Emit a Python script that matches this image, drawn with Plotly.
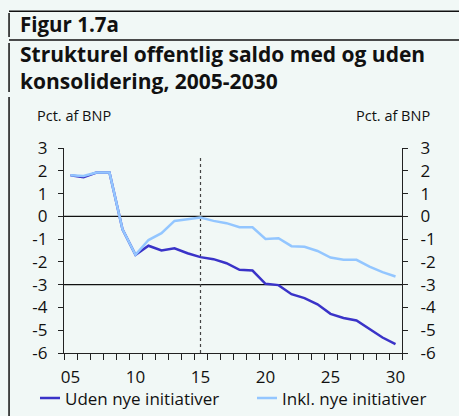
import plotly.graph_objects as go

years = list(range(2005, 2031))
uden = [1.80, 1.72, 1.92, 1.92, -0.57, -1.69, -1.29, -1.50, -1.40, -1.62, -1.79,
        -1.88, -2.06, -2.35, -2.38, -2.96, -3.02, -3.42, -3.59, -3.86, -4.28,
        -4.46, -4.57, -4.94, -5.32, -5.61]
inkl = [1.80, 1.77, 1.92, 1.92, -0.57, -1.69, -1.04, -0.74, -0.20, -0.12, -0.05,
        -0.20, -0.30, -0.48, -0.48, -0.99, -0.96, -1.31, -1.34, -1.52, -1.81,
        -1.91, -1.91, -2.21, -2.45, -2.64]
series_names = ["Uden nye initiativer", "Inkl. nye initiativer"]
y_ticks = [-6, -5, -4, -3, -2, -1, 0, 1, 2, 3]
y_tick_text = ["-6", "-5", "-4", "-3", "-2", "-1", "0", "1", "2", "3"]
x_tick_vals = [2005, 2010, 2015, 2020, 2025, 2030]
x_tick_text = ["05", "10", "15", "20", "25", "30"]
ref_lines = [0, -3]
marker_year = 2015

W, H = 459, 416
L, R, T, B = 64, 402, 148, 353
BG = "#F1F8F6"
FONT = "Open Sans"
DARK = "#3A33C8"
LIGHT = "#93C6FF"
colors = [DARK, LIGHT]


def px(x):
    return (x - L) / (R - L)


def py(y):
    return (B - y) / (B - T)


fig = go.Figure()
fig.add_trace(go.Scatter(x=years, y=uden, name=series_names[0], mode="lines",
                         line=dict(color=DARK, width=2.5), yaxis="y", showlegend=False))
fig.add_trace(go.Scatter(x=years, y=inkl, name=series_names[1], mode="lines",
                         line=dict(color=LIGHT, width=2.5), yaxis="y2", showlegend=False))

axis_common = dict(range=[-6, 3], tickvals=y_ticks, ticktext=y_tick_text,
                   ticks="outside", ticklen=5, automargin=False,
                   tickwidth=1.2, tickcolor="#222", showline=True, linecolor="#222",
                   linewidth=1.3, showgrid=False, zeroline=False,
                   tickfont=dict(family=FONT, size=17, color="#111"))

fig.update_layout(
    width=W, height=H,
    margin=dict(l=L, r=W - R, t=T, b=H - B, pad=0, autoexpand=False),
    paper_bgcolor=BG, plot_bgcolor=BG,
    xaxis=dict(range=[2004.5, 2030.5], tickvals=x_tick_vals, ticktext=x_tick_text,
               ticks="", showline=True, linecolor="#222", linewidth=1.3,
               showgrid=False, zeroline=False, ticklabelstandoff=8, automargin=False,
               tickfont=dict(family=FONT, size=17, color="#111"),
               minor=dict(tickvals=[y + 0.5 for y in range(2004, 2031)],
                          ticks="outside", ticklen=6, tickwidth=1.2, tickcolor="#222",
                          showgrid=False)),
    yaxis=dict(side="left", ticklabelstandoff=7, **axis_common),
    yaxis2=dict(side="right", overlaying="y", ticklabelstandoff=9, **axis_common),
    showlegend=False,
)

for v in ref_lines:
    fig.add_shape(type="line", xref="paper", yref="y", x0=0, x1=1, y0=v, y1=v,
                  line=dict(color="#111", width=1.2), layer="below")
fig.add_shape(type="line", xref="x", yref="y", x0=marker_year, x1=marker_year,
              y0=-6, y1=2.6, line=dict(color="#444", width=1.2, dash="dot"), layer="below")

# frame lines (drawn as thin filled rectangles)
frame = [
    (9, 10.5, W, 12), (9, 39.3, W, 40.8),
    (8.3, 13, 9.8, 37), (8.3, 43, 9.8, 92), (8.3, 97, 9.8, H),
]
for x0, y0, x1, y1 in frame:
    fig.add_shape(type="rect", xref="paper", yref="paper", x0=px(x0), x1=px(x1),
                  y0=py(y0), y1=py(y1), line=dict(width=0), fillcolor="#111",
                  layer="above")

# legend (manual)
legend_pos = [(40, 398), (257, 398)]
for (lx, ly), name, col in zip(legend_pos, series_names, colors):
    fig.add_shape(type="line", xref="paper", yref="paper", x0=px(lx), x1=px(lx + 20),
                  y0=py(ly), y1=py(ly), line=dict(color=col, width=2.5))
    fig.add_annotation(text=name, xref="paper", yref="paper", x=px(lx + 23), y=py(ly),
                       xanchor="left", yanchor="middle", showarrow=False,
                       font=dict(family=FONT, size=17, color="#111"))

ann = [
    ("Figur 1.7a", 18, 24, 20.5),
    ("Strukturel offentlig saldo med og uden", 18, 54, 21),
    ("konsolidering, 2005-2030", 18, 81, 21),
]
for text, x, y, size in ann:
    fig.add_annotation(text=f"<b>{text}</b>", xref="paper", yref="paper", x=px(x), y=py(y),
                       xanchor="left", yanchor="middle", showarrow=False,
                       font=dict(family=FONT, size=size, color="#111"))
fig.add_annotation(text="Pct. af BNP", xref="paper", yref="paper", x=px(35), y=py(115),
                   xanchor="left", yanchor="middle", showarrow=False,
                   font=dict(family=FONT, size=14.5, color="#111"))
fig.add_annotation(text="Pct. af BNP", xref="paper", yref="paper", x=px(432), y=py(115),
                   xanchor="right", yanchor="middle", showarrow=False,
                   font=dict(family=FONT, size=14.5, color="#111"))

fig.write_html("out.html", config={"displayModeBar": False},
               post_script="document.body.style.margin='0';document.body.style.padding='0';")
